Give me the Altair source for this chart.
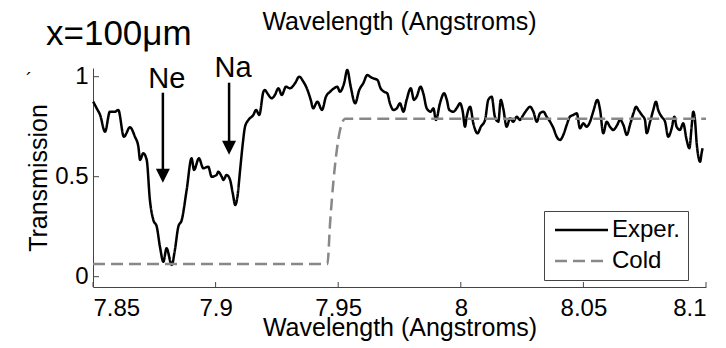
import altair as alt
import pandas as pd

# ---- data ----
exper_x = [7.8501, 7.8515, 7.8529, 7.8549, 7.8569, 7.8590, 7.8603, 7.8626, 7.8651, 7.8671,
           7.8685, 7.8692, 7.8705, 7.8719, 7.8732, 7.8746, 7.8760, 7.8773, 7.8787, 7.8800,
           7.8821, 7.8834, 7.8848, 7.8862, 7.8882, 7.8902, 7.8912, 7.8932, 7.8950, 7.8970,
           7.8984, 7.9004, 7.9011, 7.9025, 7.9032, 7.9045, 7.9059, 7.9070, 7.9080, 7.9089,
           7.9100, 7.9111, 7.9120, 7.9134, 7.9154, 7.9165, 7.9178, 7.9195, 7.9201, 7.9211,
           7.9229, 7.9242, 7.9256, 7.9270, 7.9287, 7.9303, 7.9324, 7.9341, 7.9358, 7.9372,
           7.9388, 7.9398, 7.9415, 7.9434, 7.9450, 7.9467, 7.9483, 7.9496, 7.9507, 7.9524,
           7.9537, 7.9551, 7.9569, 7.9586, 7.9602, 7.9619, 7.9630, 7.9643, 7.9660, 7.9673,
           7.9687, 7.9700, 7.9711, 7.9725, 7.9739, 7.9752, 7.9766, 7.9779, 7.9796, 7.9809,
           7.9820, 7.9836, 7.9847, 7.9861, 7.9877, 7.9888, 7.9899, 7.9915, 7.9932, 7.9943,
           7.9953, 7.9970, 7.9983, 7.9997, 8.0008, 8.0017, 8.0024, 8.0038, 8.0051, 8.0068,
           8.0082, 8.0099, 8.0112, 8.0126, 8.0139, 8.0153, 8.0163, 8.0173, 8.0187, 8.0201,
           8.0214, 8.0228, 8.0241, 8.0255, 8.0269, 8.0282, 8.0296, 8.0310, 8.0323, 8.0337,
           8.0350, 8.0364, 8.0378, 8.0391, 8.0405, 8.0418, 8.0432, 8.0445, 8.0459, 8.0473,
           8.0486, 8.0500, 8.0513, 8.0527, 8.0540, 8.0557, 8.0568, 8.0581, 8.0595, 8.0608,
           8.0622, 8.0638, 8.0649, 8.0663, 8.0677, 8.0690, 8.0704, 8.0715, 8.0724, 8.0738,
           8.0751, 8.0758, 8.0772, 8.0785, 8.0796, 8.0805, 8.0819, 8.0833, 8.0846, 8.0860,
           8.0871, 8.0880, 8.0894, 8.0907, 8.0921, 8.0932, 8.0942, 8.0948, 8.0955, 8.0962,
           8.0969, 8.0976, 8.0982, 8.0986]
exper_y = [0.875, 0.842, 0.809, 0.725, 0.825, 0.825, 0.834, 0.700, 0.747, 0.700,
           0.650, 0.584, 0.617, 0.584, 0.384, 0.284, 0.250, 0.150, 0.075, 0.142,
           0.059, 0.134, 0.250, 0.284, 0.434, 0.592, 0.534, 0.592, 0.542, 0.550,
           0.500, 0.509, 0.525, 0.500, 0.484, 0.509, 0.484, 0.417, 0.359, 0.400,
           0.534, 0.667, 0.750, 0.784, 0.809, 0.834, 0.809, 0.925, 0.934, 0.917,
           0.892, 0.909, 0.942, 0.909, 0.950, 0.942, 0.967, 1.000, 0.975, 0.942,
           0.884, 0.842, 0.875, 0.834, 0.900, 0.925, 0.942, 0.950, 0.925, 0.967,
           1.034, 0.950, 0.867, 0.934, 0.967, 1.009, 1.000, 0.992, 0.984, 0.942,
           0.925, 0.917, 0.867, 0.834, 0.842, 0.867, 0.825, 0.884, 0.942, 0.884,
           0.900, 0.950, 0.917, 0.842, 0.825, 0.842, 0.784, 0.867, 0.917, 0.884,
           0.834, 0.825, 0.842, 0.867, 0.825, 0.750, 0.800, 0.850, 0.767, 0.717,
           0.750, 0.784, 0.884, 0.900, 0.800, 0.775, 0.884, 0.842, 0.750, 0.792,
           0.775, 0.800, 0.784, 0.809, 0.834, 0.850, 0.825, 0.775, 0.817, 0.825,
           0.800, 0.775, 0.742, 0.700, 0.684, 0.709, 0.759, 0.800, 0.809, 0.817,
           0.742, 0.767, 0.750, 0.775, 0.825, 0.884, 0.834, 0.717, 0.775, 0.750,
           0.734, 0.759, 0.784, 0.759, 0.709, 0.759, 0.817, 0.850, 0.834, 0.809,
           0.784, 0.717, 0.775, 0.834, 0.875, 0.834, 0.800, 0.775, 0.700, 0.742,
           0.800, 0.750, 0.734, 0.767, 0.684, 0.642, 0.759, 0.825, 0.784, 0.667,
           0.600, 0.575, 0.617, 0.642]

cold_x = [7.8500, 7.9456, 7.9467, 7.9480, 7.9494, 7.9507, 7.9529, 8.1000]
cold_y = [0.063, 0.063, 0.270, 0.470, 0.630, 0.730, 0.790, 0.790]

series_names = ["Exper.", "Cold"]
series_colors = ["#000000", "#888888"]

x_ticks = [7.85, 7.9, 7.95, 8.0, 8.05, 8.1]
y_ticks = [0, 0.5, 1]

arrow_labels = ["Ne", "Na"]
arrow_x = [7.8785, 7.9055]
arrow_top = [0.92, 0.97]
arrow_tip = [0.47, 0.61]
arrow_text_y = [0.943, 0.998]

FONT = "Liberation Sans"
W, H = 613, 219

df = pd.concat([
    pd.DataFrame({"wl": exper_x, "tr": exper_y, "series": series_names[0], "order": range(len(exper_x))}),
    pd.DataFrame({"wl": cold_x, "tr": cold_y, "series": series_names[1], "order": range(len(cold_x))}),
])
arrows = pd.DataFrame({"label": arrow_labels, "x": arrow_x, "top": arrow_top,
                       "tip": arrow_tip, "ty": arrow_text_y})
arrows["base"] = arrows["tip"] + 0.05

xscale = alt.Scale(domain=[7.85, 8.1], nice=False, zero=False)
yscale = alt.Scale(domain=[-0.0515, 1.0435], nice=False, zero=False)

legend = alt.Legend(
    title=None, orient="none", legendX=451, legendY=143,
    symbolType="M0,0H26.5", symbolSize=16, symbolStrokeWidth=2.5, symbolOffset=-8,
    labelFont=FONT, labelFontSize=24, labelColor="black", labelOffset=45, labelLimit=300,
    strokeColor="#444444", fillColor="white", padding=7, rowPadding=7,
)

lines = alt.Chart(df).mark_line(strokeWidth=2.5, interpolate="monotone").encode(
    x=alt.X("wl:Q", scale=xscale,
            axis=alt.Axis(values=x_ticks, format="~g", ticks=False, labelPadding=9,
                          title="Wavelength (Angstroms)", titleX=W / 2, titleY=48,
                          titleAlign="center", titleBaseline="alphabetic")),
    y=alt.Y("tr:Q", scale=yscale,
            axis=alt.Axis(values=y_ticks, format="~g", ticks=False, labelPadding=5,
                          title="Transmission", titleX=-55, titleY=H / 2, titleAngle=-90,
                          titleAlign="center", titleBaseline="middle")),
    color=alt.Color("series:N", scale=alt.Scale(domain=series_names, range=series_colors),
                    legend=legend),
    strokeDash=alt.StrokeDash("series:N",
                              scale=alt.Scale(domain=series_names, range=[[1, 0], [12, 6]]),
                              legend=legend),
    order="order:Q",
)

xt = alt.Chart(pd.DataFrame({"v": x_ticks})).mark_rule(color="#444444", strokeWidth=1).encode(
    x=alt.X("v:Q", scale=xscale), y=alt.value(H), y2=alt.value(H - 5))
yt = alt.Chart(pd.DataFrame({"v": y_ticks})).mark_rule(color="#444444", strokeWidth=1).encode(
    y=alt.Y("v:Q", scale=yscale), x=alt.value(0), x2=alt.value(6))

arrow_shaft = alt.Chart(arrows).mark_rule(color="black", strokeWidth=2.5).encode(
    x=alt.X("x:Q", scale=xscale), y=alt.Y("top:Q", scale=yscale), y2="base:Q")
arrow_head = alt.Chart(arrows).mark_point(
    shape="M-1,-2L1,-2L0,0Z", filled=True, color="black", opacity=1, size=196, strokeWidth=0
).encode(x=alt.X("x:Q", scale=xscale), y=alt.Y("tip:Q", scale=yscale))
arrow_text = alt.Chart(arrows).mark_text(
    font=FONT, fontSize=29, color="black", baseline="alphabetic", align="center", dx=4
).encode(x=alt.X("x:Q", scale=xscale), y=alt.Y("ty:Q", scale=yscale), text="label:N")

title_txt = alt.Chart(pd.DataFrame({"t": ["x=100μm"]})).mark_text(
    font=FONT, fontSize=35, color="black", align="left", baseline="alphabetic"
).encode(x=alt.value(-47), y=alt.value(-23), text="t:N")
top_txt = alt.Chart(pd.DataFrame({"t": ["Wavelength (Angstroms)"]})).mark_text(
    font=FONT, fontSize=25, color="black", align="center", baseline="alphabetic"
).encode(x=alt.value(W / 2), y=alt.value(-38), text="t:N")
mark_txt = alt.Chart(pd.DataFrame({"t": ["´"]})).mark_text(
    font=FONT, fontSize=18, color="black", align="center", baseline="middle"
).encode(x=alt.value(-64), y=alt.value(13), text="t:N")

chart = alt.layer(lines, xt, yt, arrow_shaft, arrow_head, arrow_text, title_txt, top_txt, mark_txt).properties(
    width=W, height=H,
    autosize=alt.AutoSizeParams(type="none"),
    padding={"left": 85, "top": 60, "right": 12, "bottom": 56},
).configure_view(stroke=None).configure_axis(
    grid=False, domainColor="#444444", domainWidth=1,
    labelFont=FONT, labelFontSize=24, labelColor="black",
    titleFont=FONT, titleFontSize=25, titleColor="black", titleFontWeight="normal",
)

chart.save("out.html", embed_options={"renderer": "svg", "actions": False})
